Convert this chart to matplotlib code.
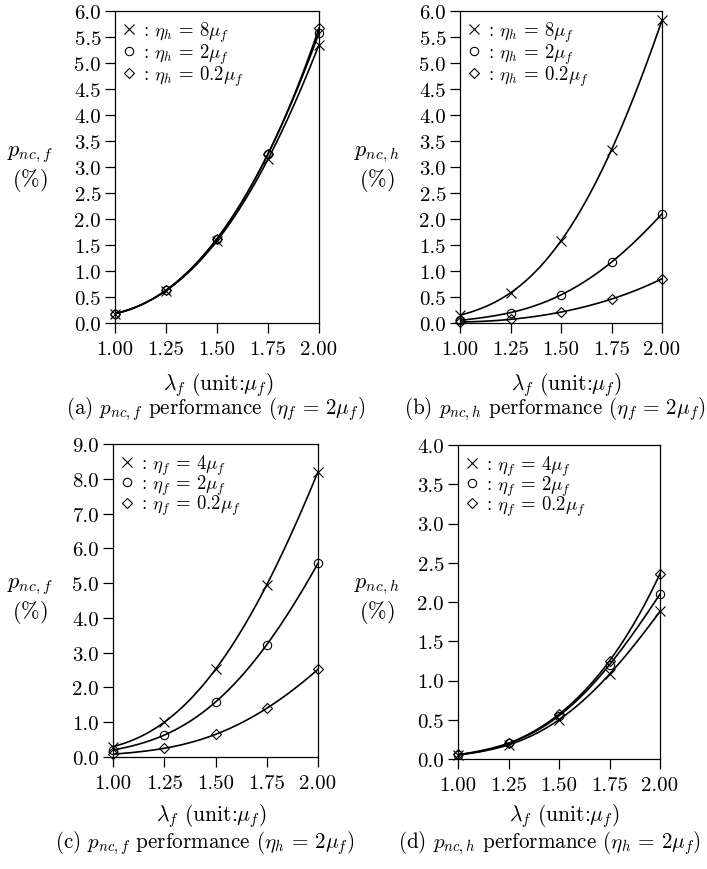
import numpy as np
import matplotlib
matplotlib.use("Agg")
import matplotlib.pyplot as plt
from matplotlib.ticker import FormatStrFormatter, MultipleLocator

plt.rcParams["font.family"] = "serif"
plt.rcParams["font.serif"] = ["cmr10"]
plt.rcParams["mathtext.fontset"] = "cm"
plt.rcParams["axes.formatter.use_mathtext"] = True

lam = [1.00, 1.25, 1.50, 1.75, 2.00]

# (a) p_nc,f, eta_f = 2 mu_f
a_eta8 = [0.18, 0.62, 1.58, 3.15, 5.35]
a_eta2 = [0.18, 0.63, 1.62, 3.25, 5.58]
a_eta02 = [0.18, 0.63, 1.62, 3.25, 5.67]

# (b) p_nc,h, eta_f = 2 mu_f
b_eta8 = [0.15, 0.58, 1.58, 3.33, 5.82]
b_eta2 = [0.05, 0.20, 0.54, 1.17, 2.10]
b_eta02 = [0.02, 0.07, 0.21, 0.46, 0.85]

# (c) p_nc,f, eta_h = 2 mu_f
c_eta4 = [0.30, 1.00, 2.52, 4.95, 8.20]
c_eta2 = [0.20, 0.63, 1.58, 3.23, 5.57]
c_eta02 = [0.08, 0.25, 0.65, 1.40, 2.52]

# (d) p_nc,h, eta_h = 2 mu_f
d_eta4 = [0.05, 0.18, 0.50, 1.08, 1.88]
d_eta2 = [0.05, 0.20, 0.55, 1.20, 2.10]
d_eta02 = [0.06, 0.20, 0.57, 1.25, 2.36]

labels_h = [r"$:\,\eta_h\,=\,8\mu_f$", r"$:\,\eta_h\,=\,2\mu_f$", r"$:\,\eta_h\,=\,0.2\mu_f$"]
labels_f = [r"$:\,\eta_f\,=\,4\mu_f$", r"$:\,\eta_f\,=\,2\mu_f$", r"$:\,\eta_f\,=\,0.2\mu_f$"]
markers = [("x", 7), ("o", 6), ("D", 5.5)]

W, H = 707, 870
fig = plt.figure(figsize=(W / 100, H / 100), dpi=100)


def axes_px(x0, x1, y_top, y_bot):
    return fig.add_axes([x0 / W, 1 - y_bot / H, (x1 - x0) / W, (y_bot - y_top) / H])


def panel(ax, series, labels, ymax, ystep, lspace):
    xs = np.linspace(1, 2, 200)
    for ys, (m, ms), lab in zip(series, markers, labels):
        coef = np.polyfit(lam, ys, 4)
        ax.plot(xs, np.polyval(coef, xs), color="black", lw=1.2)
        ax.plot(lam, ys, ls="none", marker=m, ms=ms, mfc="none", mec="black",
                mew=0.8, label=lab, clip_on=False)
    ax.set_xlim(1, 2)
    ax.set_ylim(0, ymax)
    ax.set_xticks(lam)
    ax.yaxis.set_major_locator(MultipleLocator(ystep))
    ax.xaxis.set_major_formatter(FormatStrFormatter("%.2f"))
    ax.yaxis.set_major_formatter(FormatStrFormatter("%.1f"))
    ax.tick_params(direction="out", length=7, width=0.9, labelsize=15, pad=3)
    ax.tick_params(axis="x", pad=5)
    for s in ax.spines.values():
        s.set_linewidth(0.9)
    ax.legend(loc="upper left", frameon=False, fontsize=13.5, handlelength=0.6,
              handletextpad=0.3, labelspacing=lspace, borderaxespad=0.0,
              borderpad=0.45)


ax_a = axes_px(115, 319, 12, 324)
panel(ax_a, [a_eta8, a_eta2, a_eta02], labels_h, 6.0, 0.5, -0.12)
ax_b = axes_px(460, 662, 12, 324)
panel(ax_b, [b_eta8, b_eta2, b_eta02], labels_h, 6.0, 0.5, -0.12)
ax_c = axes_px(113, 318, 445, 758)
panel(ax_c, [c_eta4, c_eta2, c_eta02], labels_f, 9.0, 1.0, -0.22)
ax_d = axes_px(458, 660, 446, 760)
panel(ax_d, [d_eta4, d_eta2, d_eta02], labels_f, 4.0, 0.5, -0.24)


def ftext(x, y, s, size=15.5, ha="center"):
    fig.text(x / W, 1 - y / H, s, ha=ha, va="center", fontsize=size)


# y labels
for x, y, sub in [(30, 155, "f"), (377, 155, "h"), (30, 587, "f"), (377, 587, "h")]:
    ftext(x, y, r"$p_{nc,%s}$" % sub, size=16)
    ftext(x, y + 26, r"$(\%)$", size=16)

# x labels
xlab = r"$\lambda_f$ (unit:$\mu_f$)"
ftext(218, 385, xlab)
ftext(566, 385, xlab)
ftext(211, 816, xlab)
ftext(564, 816, xlab)

# captions
ftext(66, 409, r"(a) $p_{nc,f}$ performance ($\eta_f\,=\,2\mu_f$)", size=15.2, ha="left")
ftext(404, 409, r"(b) $p_{nc,h}$ performance ($\eta_f\,=\,2\mu_f$)", size=15.2, ha="left")
ftext(55, 843, r"(c) $p_{nc,f}$ performance ($\eta_h\,=\,2\mu_f$)", size=15.2, ha="left")
ftext(398, 843, r"(d) $p_{nc,h}$ performance ($\eta_h\,=\,2\mu_f$)", size=15.2, ha="left")

fig.savefig("out.png", dpi=100)
